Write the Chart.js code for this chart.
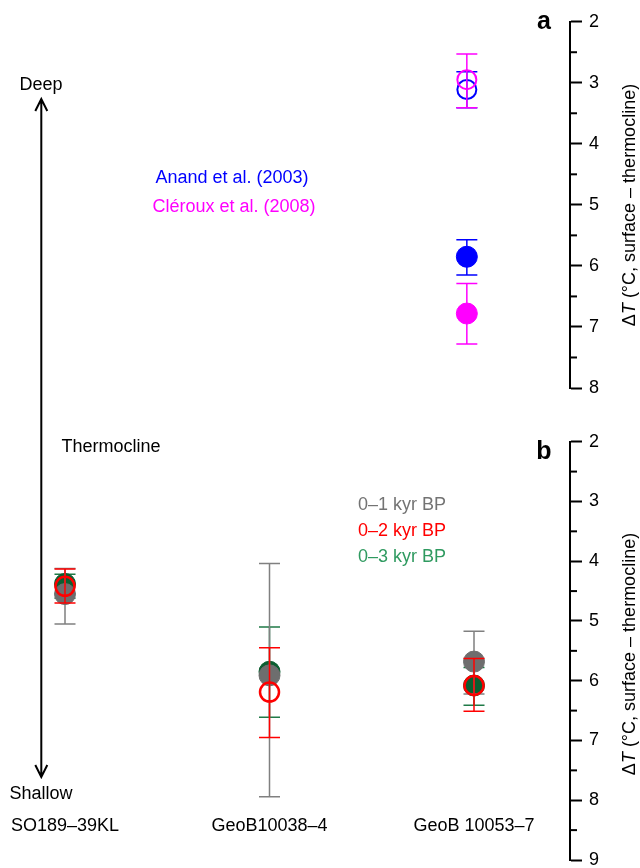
<!DOCTYPE html>
<html>
<head>
<meta charset="utf-8">
<script src="https://cdn.jsdelivr.net/npm/chart.js@4"></script>
<style>
  html, body { margin: 0; padding: 0; background: #fff; }
  #wrap { position: relative; width: 640px; height: 868px; }
</style>
</head>
<body>
<div id="wrap"><canvas id="deltaT"></canvas></div>
<script>
// panel a: reference values (Anand / Cleroux), open and filled symbols
var refNames = ['Anand et al. (2003)', 'Cléroux et al. (2008)'];
var refOpen = [3.11, 2.95];
var refOpenMin = [2.82, 2.53];
var refOpenMax = [3.41, 3.41];
var refFilled = [5.85, 6.78];
var refFilledMin = [5.57, 6.29];
var refFilledMax = [6.15, 7.28];
var refSite = 1.965;

// panel b: core sites
var sites = ['SO189–39KL', 'GeoB10038–4', 'GeoB 10053–7'];
var kyrNames = ['0–1 kyr BP', '0–2 kyr BP', '0–3 kyr BP'];
var kyr1 = [4.55, 5.91, 5.68];
var kyr1Min = [4.12, 4.04, 5.17];
var kyr1Max = [5.05, 7.94, 6.22];
var kyr2 = [4.42, 6.19, 6.08];
var kyr2Min = [4.13, 5.45, 5.63];
var kyr2Max = [4.70, 6.95, 6.51];
var kyr3 = [4.38, 5.85, 6.08];
var kyr3Min = [4.22, 5.10, 5.78];
var kyr3Max = [4.62, 6.61, 6.41];

var aTicks = [2, 3, 4, 5, 6, 7, 8];
var bTicks = [2, 3, 4, 5, 6, 7, 8, 9];

var FONT = '"Liberation Sans", Arial, Helvetica, sans-serif';
Chart.defaults.font.family = FONT;
Chart.defaults.font.size = 18;
Chart.defaults.color = '#000';

var BLUE = '#0000ff', MAGENTA = '#ff00ff', RED = '#ff0000';
var GREY = '#6e6e6e', GREY_BAR = '#808080', GREY_TXT = '#737373';
var GREEN = '#0b5e30', GREEN_BAR = '#1f7a47', GREEN_TXT = '#2f9a60';

function pts(xs, ys){
    return ys.map(function(v, i){ return {x: xs[i], y: v}; });
}
var siteIdx = sites.map(function(s, i){ return i; });

function openSet(label, xs, ys, lo, hi, col, axis, bw){
    return {label: label, data: pts(xs, ys), yAxisID: axis, errMin: lo, errMax: hi, barColor: col,
        pointRadius: 9.5, pointBorderWidth: bw, pointBorderColor: col,
        pointBackgroundColor: 'rgba(0,0,0,0)', clip: false};
}
function filledSet(label, xs, ys, lo, hi, col, barCol, axis){
    return {label: label, data: pts(xs, ys), yAxisID: axis, errMin: lo, errMax: hi, barColor: barCol,
        pointRadius: 10.5, pointBorderWidth: 1, pointBorderColor: col,
        pointBackgroundColor: col, clip: false};
}

// first dataset is painted last (on top)
var datasets = [
    openSet(kyrNames[1], siteIdx, kyr2, kyr2Min, kyr2Max, RED, 'yb', 2.5),
    filledSet(kyrNames[0], siteIdx, kyr1, kyr1Min, kyr1Max, GREY, GREY_BAR, 'yb'),
    filledSet(kyrNames[2], siteIdx, kyr3, kyr3Min, kyr3Max, GREEN, GREEN_BAR, 'yb'),
    openSet(refNames[1] + ' open', [refSite], [refOpen[1]], [refOpenMin[1]], [refOpenMax[1]], MAGENTA, 'ya', 2),
    openSet(refNames[0] + ' open', [refSite], [refOpen[0]], [refOpenMin[0]], [refOpenMax[0]], BLUE, 'ya', 2),
    filledSet(refNames[0], [refSite], [refFilled[0]], [refFilledMin[0]], [refFilledMax[0]], BLUE, BLUE, 'ya'),
    filledSet(refNames[1], [refSite], [refFilled[1]], [refFilledMin[1]], [refFilledMax[1]], MAGENTA, MAGENTA, 'ya')
];

function yAxis(ticks){
    return {
        type: 'linear', position: 'right', reverse: true,
        min: ticks[0], max: ticks[ticks.length - 1],
        afterBuildTicks: function(s){ s.ticks = ticks.map(function(v){ return {value: v}; }); },
        grid: {drawOnChartArea: false, tickLength: 12, tickWidth: 2, tickColor: '#000'},
        border: {display: true, width: 2, color: '#000'},
        ticks: {padding: 7, color: '#000', font: {size: 18}}
    };
}

// put the two panels and the site labels where the figure has them
var placer = {
    id: 'placer',
    afterLayout: function(chart){
        function put(s, l, t, r, b){
            s.left = l; s.top = t; s.right = r; s.bottom = b;
            s.width = r - l; s.height = b - t;
            s.configure();
        }
        put(chart.scales.x, 3.65, 807, 617.15, 840);
        put(chart.scales.ya, 570, 21.7, 640, 388);
        put(chart.scales.yb, 570, 441.7, 640, 860);
    }
};

var errorBars = {
    id: 'errorBars',
    beforeDatasetDraw: function(chart, args){
        var ds = chart.data.datasets[args.index];
        var meta = args.meta;
        var ctx = chart.ctx;
        ctx.save();
        ctx.strokeStyle = ds.barColor;
        ctx.lineWidth = 1.5;
        ds.data.forEach(function(p, i){
            var x = meta.xScale.getPixelForValue(p.x);
            var y1 = meta.yScale.getPixelForValue(ds.errMin[i]);
            var y2 = meta.yScale.getPixelForValue(ds.errMax[i]);
            ctx.beginPath();
            ctx.moveTo(x, y1); ctx.lineTo(x, y2);
            ctx.moveTo(x - 10.5, y1); ctx.lineTo(x + 10.5, y1);
            ctx.moveTo(x - 10.5, y2); ctx.lineTo(x + 10.5, y2);
            ctx.stroke();
        });
        ctx.restore();
    }
};

var notes = {
    id: 'notes',
    afterDraw: function(chart){
        var ctx = chart.ctx;
        ctx.save();
        // minor ticks
        ctx.strokeStyle = '#000';
        ctx.lineWidth = 2;
        [['ya', aTicks], ['yb', bTicks]].forEach(function(a){
            var sc = chart.scales[a[0]];
            a[1].slice(0, -1).forEach(function(v){
                var y = sc.getPixelForValue(v + 0.5);
                ctx.beginPath(); ctx.moveTo(sc.left, y); ctx.lineTo(sc.left + 7, y); ctx.stroke();
            });
        });

        // deep / shallow arrow
        var ax = 41.3, top = 99, bot = 777;
        ctx.beginPath();
        ctx.moveTo(ax, top); ctx.lineTo(ax, bot);
        ctx.moveTo(ax - 6, top + 12); ctx.lineTo(ax, top); ctx.lineTo(ax + 6, top + 12);
        ctx.moveTo(ax - 6, bot - 12); ctx.lineTo(ax, bot); ctx.lineTo(ax + 6, bot - 12);
        ctx.stroke();

        ctx.textAlign = 'center';
        ctx.textBaseline = 'middle';
        ctx.font = '18px ' + FONT;
        ctx.fillStyle = '#000';
        ctx.fillText('Deep', 41, 85);
        ctx.fillText('Shallow', 41, 794);
        ctx.fillText('Thermocline', 111, 447);

        ctx.fillStyle = BLUE; ctx.fillText(refNames[0], 232, 178);
        ctx.fillStyle = MAGENTA; ctx.fillText(refNames[1], 234, 207);

        ctx.fillStyle = GREY_TXT; ctx.fillText(kyrNames[0], 402, 505);
        ctx.fillStyle = RED; ctx.fillText(kyrNames[1], 402, 531);
        ctx.fillStyle = GREEN_TXT; ctx.fillText(kyrNames[2], 402, 557);

        ctx.fillStyle = '#000';
        ctx.font = 'bold 25px ' + FONT;
        ctx.fillText('a', 544, 22);
        ctx.fillText('b', 544, 452);

        // axis titles, read bottom to top, with an italic T
        [['ya', 205], ['yb', 654]].forEach(function(a){
            var parts = [['Δ', ''], ['T', 'italic '], [' (°C, surface – thermocline)', '']];
            ctx.save();
            ctx.translate(630, a[1]);
            ctx.rotate(-Math.PI / 2);
            ctx.textAlign = 'left';
            var w = 0;
            parts.forEach(function(p){ ctx.font = p[1] + '18px ' + FONT; w += ctx.measureText(p[0]).width; });
            var x = -w / 2;
            parts.forEach(function(p){
                ctx.font = p[1] + '18px ' + FONT;
                ctx.fillText(p[0], x, 0);
                x += ctx.measureText(p[0]).width;
            });
            ctx.restore();
        });
        ctx.restore();
    }
};

var chart = new Chart(document.getElementById('deltaT'), {
    type: 'scatter',
    data: {datasets: datasets},
    options: {
        responsive: true,
        maintainAspectRatio: false,
        animation: false,
        events: [],
        layout: {padding: {left: 10, right: 0, top: 20, bottom: 10}},
        plugins: {legend: {display: false}, tooltip: {enabled: false}},
        scales: {
            x: {
                type: 'linear', position: 'bottom', min: -0.3, max: 2.7,
                afterBuildTicks: function(s){ s.ticks = siteIdx.map(function(v){ return {value: v}; }); },
                grid: {display: false},
                border: {display: false},
                ticks: {
                    autoSkip: false, maxRotation: 0, minRotation: 0, padding: 0,
                    color: '#000', font: {size: 18},
                    callback: function(v){ return sites[v]; }
                }
            },
            ya: yAxis(aTicks),
            yb: yAxis(bTicks)
        }
    },
    plugins: [placer, errorBars, notes]
});
</script>
</body>
</html>
